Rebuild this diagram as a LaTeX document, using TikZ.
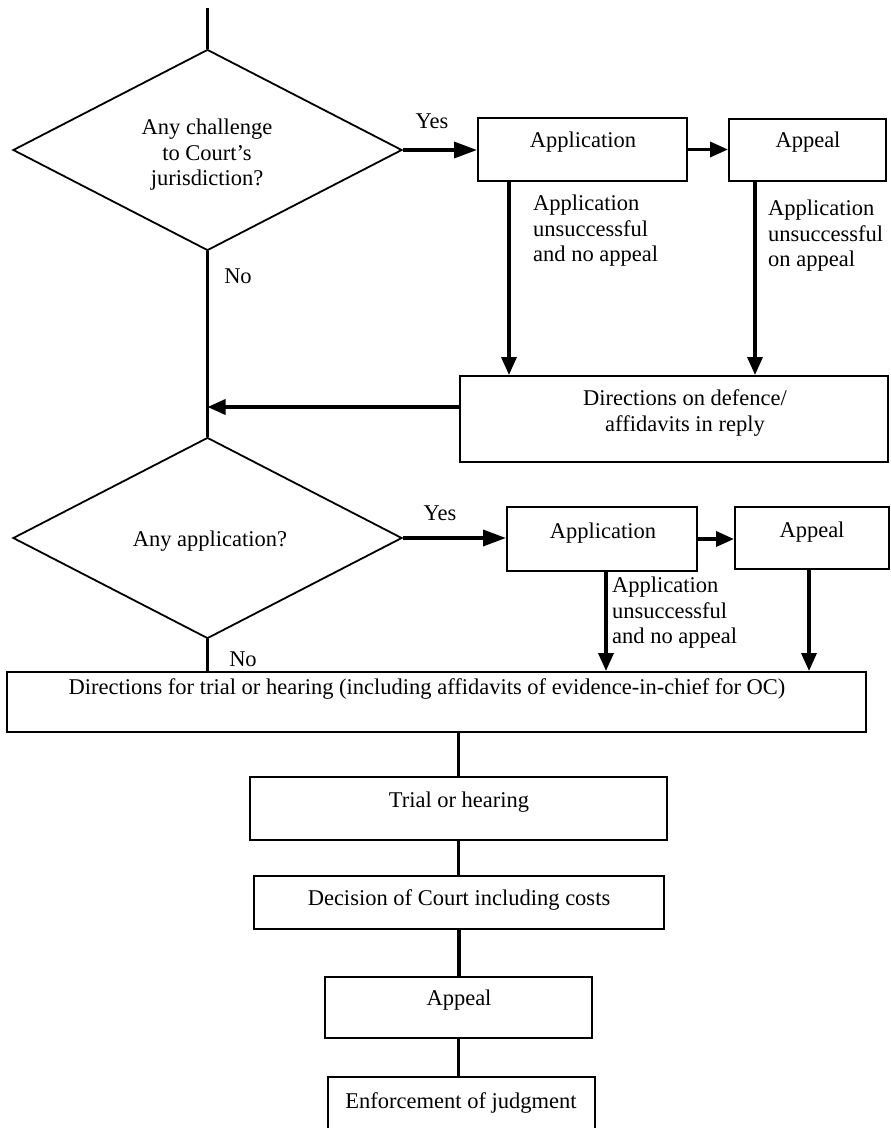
\documentclass[tikz,border=0pt]{standalone}
\usepackage{fontspec}
\setmainfont{Liberation Serif}
\usetikzlibrary{shapes.geometric,arrows.meta}
\begin{document}
\begin{tikzpicture}[x=1pt,y=-1pt,
  shp/.style={draw,line width=2pt},
  boxs/.style={shp,rectangle,inner sep=0pt},
  dia/.style={draw,line width=1.8pt,diamond,inner sep=0pt,minimum width=389pt,minimum height=201pt,aspect=1.94},
  conn/.style={line width=3.5pt},
  arr/.style={conn,-{Triangle[length=18pt,width=15pt]}},
  bigarr/.style={conn,-{Triangle[length=23pt,width=16pt]}},
  txt/.style={font=\fontsize{22.5}{25.5}\selectfont,inner sep=0pt,align=center},
  lbl/.style={txt,align=left,anchor=west}]
\useasboundingbox (0,0) rectangle (891,1128);
\clip (0,0) rectangle (891,1128);
\fill[white] (0,0) rectangle (891,1128);

% shapes
\node[dia] (d1) at (207.5,150) {};
\node[dia] (d2) at (207.5,538) {};
\node[boxs,minimum width=209pt,minimum height=63pt] (app1) at (582.5,149.5) {};
\node[boxs,minimum width=157pt,minimum height=62pt] (apl1) at (807.5,150) {};
\node[boxs,minimum width=428pt,minimum height=86pt] (dir1) at (674,419) {};
\node[boxs,minimum width=190pt,minimum height=64pt] (app2) at (602,539) {};
\node[boxs,minimum width=154pt,minimum height=62pt] (apl2) at (812,538) {};
\node[boxs,minimum width=859pt,minimum height=60pt] (dir2) at (436.5,702) {};
\node[boxs,minimum width=417pt,minimum height=63pt] (trial) at (458.5,808.5) {};
\node[boxs,minimum width=410pt,minimum height=53pt] (dec) at (459,902.5) {};
\node[boxs,minimum width=267pt,minimum height=61pt] (apl3) at (458.5,1007.5) {};
\node[boxs,minimum width=267pt,minimum height=60pt] (enf) at (461.5,1107) {};

% texts
\node[txt] (d1t) at (207,155) {Any challenge\\to Court's\\jurisdiction?};
\node[txt] (yes1) at (432,121) {Yes};
\node[txt] (no1) at (238,276) {No};
\node[txt] (app1t) at (583,142) {Application};
\node[txt] (apl1t) at (808,142) {Appeal};
\node[lbl] (lbl1) at (533,231) {Application\\unsuccessful\\and no appeal};
\node[lbl] (lbl2) at (768,236) {Application\\unsuccessful\\on appeal};
\node[txt] (dir1t) at (685,413) {Directions on defence/\\affidavits in reply};
\node[txt] (d2t) at (210,541) {Any application?};
\node[txt] (yes2) at (440,513) {Yes};
\node[txt] (no2) at (243,659) {No};
\node[txt] (app2t) at (603,533) {Application};
\node[txt] (apl2t) at (812,532) {Appeal};
\node[lbl] (lbl3) at (612,613) {Application\\unsuccessful\\and no appeal};
\node[txt] (dir2t) at (427,689) {Directions for trial or hearing (including affidavits of evidence-in-chief for OC)};
\node[txt] (trialt) at (459,802) {Trial or hearing};
\node[txt] (dect) at (459,900) {Decision of Court including costs};
\node[txt] (apl3t) at (459,1000) {Appeal};
\node[txt] (enft) at (461,1103) {Enforcement of judgment};

% connectors
\coordinate (top) at (207.5,8);
\draw[conn] (top) -- (d1.north);
\draw[bigarr] (d1.east) -- (app1.west |- d1.east);
\draw[arr] (app1.east) -- (apl1.west |- app1.east);
\draw[arr] ([xshift=32pt]app1.south west) -- ([xshift=32pt]app1.south west |- dir1.north);
\draw[arr] ([xshift=27pt]apl1.south west) -- ([xshift=27pt]apl1.south west |- dir1.north);
\draw[arr] ([yshift=12pt]dir1.west) -- ([yshift=12pt]dir1.west -| d1.south);
\draw[conn] (d1.south) -- (d2.north);
\draw[bigarr] (d2.east) -- (app2.west |- d2.east);
\draw[arr] (app2.east) -- (apl2.west |- app2.east);
\draw[arr] ([xshift=100pt]app2.south west) -- ([xshift=100pt]app2.south west |- dir2.north);
\draw[arr] ([xshift=75pt]apl2.south west) -- ([xshift=75pt]apl2.south west |- dir2.north);
\draw[conn] (d2.south) -- (d2.south |- dir2.north);
\draw[conn] (trial.north |- dir2.south) -- (trial.north);
\draw[conn] (trial.south) -- (trial.south |- dec.north);
\draw[conn] (dec.south) -- (dec.south |- apl3.north);
\draw[conn] (apl3.south) -- (apl3.south |- enf.north);
\end{tikzpicture}
\end{document}
